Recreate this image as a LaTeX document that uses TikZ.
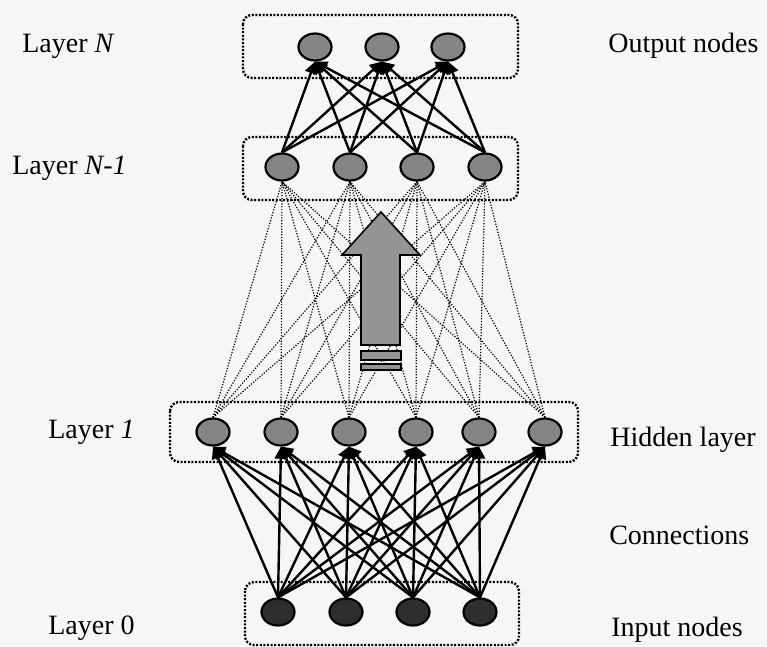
\documentclass[tikz,border=0pt]{standalone}
\usepackage{fontspec}
\setmainfont{Liberation Serif}
\usetikzlibrary{arrows.meta, shapes.geometric}

\begin{document}
\begin{tikzpicture}[x = 1pt, y = -1pt, % work in points, y pointing down
                > = {Triangle[length = 12pt, width = 12pt]}, % arrow head style
                semithick, % line style
                font = \fontsize{28}{32}\selectfont
            ]

            \tikzstyle{neuron}=[draw = black, ellipse, line width = 2.2pt,
            fill = black!48, minimum width = 33pt, minimum height = 27pt,
            inner sep = 0pt]
            \tikzstyle{inneuron}=[neuron, fill = black!82]
            \tikzstyle{layerbox}=[line width = 2.4pt, rounded corners = 9pt,
            dash pattern = on 2pt off 1.6pt]
            \tikzstyle{link}=[->, line width = 2.4pt]
            \tikzstyle{weak}=[line width = 1.2pt, dash pattern = on 1.2pt off 1.6pt]
            \tikzstyle{layertext}=[anchor = west, inner sep = 0pt]

            % paper
            \fill[gray!7] (0,0) rectangle (767,646);

            % dotted frames round each layer
            \draw[layerbox] (243,15) rectangle (518,78);
            \draw[layerbox] (243,137) rectangle (518,200);
            \draw[layerbox] (170,402) rectangle (578,462);
            \draw[layerbox] (245,582) rectangle (519,645);

            % nodes
            \node[neuron] (o1) at (315,47) {}; \node[neuron] (o2) at (382,47) {};
            \node[neuron] (o3) at (448,47) {};

            \node[neuron] (p1) at (282,167) {}; \node[neuron] (p2) at (350,167) {};
            \node[neuron] (p3) at (417,167) {}; \node[neuron] (p4) at (485,167) {};

            \node[neuron] (h1) at (213,432) {}; \node[neuron] (h2) at (281,432) {};
            \node[neuron] (h3) at (349,432) {}; \node[neuron] (h4) at (416,432) {};
            \node[neuron] (h5) at (479,432) {}; \node[neuron] (h6) at (545,432) {};

            \node[inneuron] (i1) at (278,612) {}; \node[inneuron] (i2) at (346,612) {};
            \node[inneuron] (i3) at (413,612) {}; \node[inneuron] (i4) at (480,612) {};

            % connections
            \foreach \a in {1,...,6} \foreach \b in {1,...,4}
                \draw[weak] (h\a.north) -- (p\b.south);
            \foreach \a in {1,...,4} \foreach \b in {1,...,6}
                \draw[link] (i\a.north) -- (h\b.south);
            \foreach \a in {1,...,4} \foreach \b in {1,...,3}
                \draw[link] (p\a.north) -- (o\b.south);

            % big upward arrow
            \filldraw[fill = black!42, line width = 1.6pt] (381,212) -- (420,255)
            -- (400,255) -- (400,345) -- (361,345) -- (361,255) -- (342,255) -- cycle;
            \filldraw[fill = black!42, line width = 1.6pt] (361,351) rectangle (401,360);
            \filldraw[fill = black!42, line width = 1.6pt] (361,364) rectangle (401,370);

            % labels
            \node[layertext] (lN) at (22,46) {Layer \textit{N}};
            \node[layertext] (lN1) at (12,168) {Layer \textit{N-1}};
            \node[layertext] (l1) at (48,432) {Layer \textit{1}};
            \node[layertext] (l0) at (48,628) {Layer 0};

            \node[layertext] (tout) at (608,46) {Output nodes};
            \node[layertext] (thid) at (610,440) {Hidden layer};
            \node[layertext] (tcon) at (609,535) {Connections};
            \node[layertext] (tin) at (611,630) {Input nodes};
        \end{tikzpicture}
\end{document}
